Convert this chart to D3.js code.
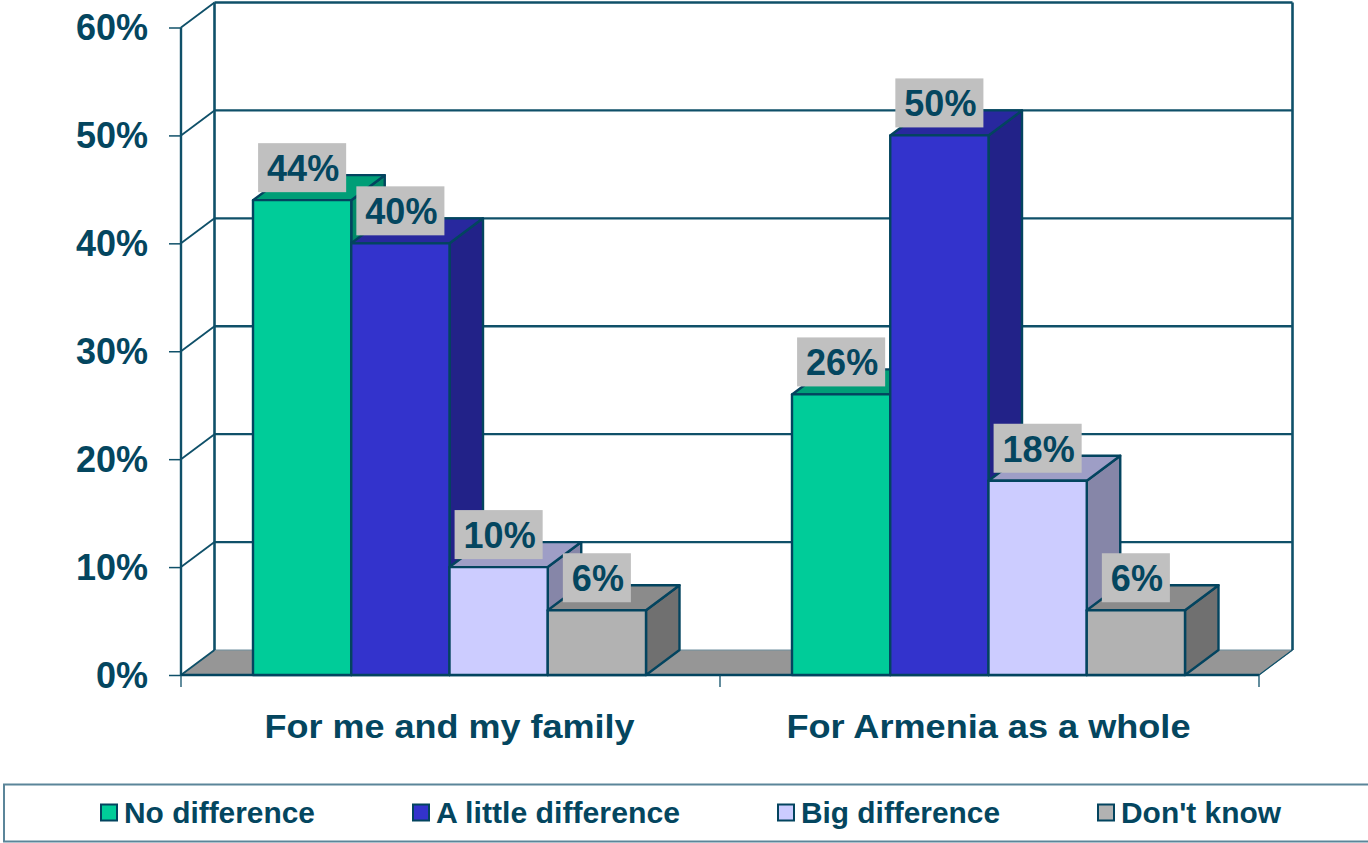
<!DOCTYPE html>
<html>
<head>
<meta charset="utf-8">
<script src="https://cdn.jsdelivr.net/npm/d3@7/dist/d3.min.js"></script>
<style>
html,body{margin:0;padding:0;background:#fff;overflow:hidden}
svg{display:block}
text{font-family:"Liberation Sans",Arial,sans-serif;font-weight:bold;fill:#04465f}
</style>
</head>
<body>
<svg id="chart" width="1368" height="843"></svg>
<script>
const categories = ["For me and my family", "For Armenia as a whole"];
const seriesNames = ["No difference", "A little difference", "Big difference", "Don't know"];
const noDifference = [44, 26];
const aLittleDifference = [40, 50];
const bigDifference = [10, 18];
const dontKnow = [6, 6];
const yTicks = [0, 10, 20, 30, 40, 50, 60];
const seriesValues = [noDifference, aLittleDifference, bigDifference, dontKnow];

const frontColors = ["#00cc99", "#3333cc", "#ccccff", "#b2b2b2"];
const topColors = ["#009e77", "#28289e", "#9e9ec6", "#8b8b8b"];
const sideColors = ["#008a68", "#222288", "#8686a8", "#707070"];
const ink = "#04465f", line = "#0f5069", outline = "#03445f";

const dx = 33.5, dy = -25;
const y = d3.scaleLinear().domain([0, 60]).range([675, 27.5]);
const x = d3.scaleBand().domain(categories).range([181, 1259]);
const inner = d3.scaleBand().domain(seriesNames).range([72, x.bandwidth() - 74]);

const svg = d3.select("#chart");
const poly = pts => pts.map(p => p.join(",")).join(" ");

// floor
svg.append("polygon")
  .attr("points", poly([[181, y(0)], [181 + dx, y(0) + dy], [1259 + dx, y(0) + dy], [1259, y(0)]]))
  .attr("fill", "#969696").attr("stroke", "#6f8f9e").attr("stroke-width", 1);

// back-wall gridlines and side-wall diagonals
svg.append("g").selectAll("line.grid").data(yTicks.filter(d => d > 0)).join("line")
  .attr("x1", 181 + dx).attr("x2", 1259 + dx)
  .attr("y1", d => y(d) + dy).attr("y2", d => y(d) + dy)
  .attr("stroke", line).attr("stroke-width", 2.4);
svg.append("g").selectAll("line").data(yTicks).join("line")
  .attr("x1", 181).attr("x2", 181 + dx)
  .attr("y1", d => y(d)).attr("y2", d => y(d) + dy)
  .attr("stroke", line).attr("stroke-width", 1.8);
// wall verticals
[181 + dx, 1259 + dx].forEach(vx => svg.append("line")
  .attr("x1", vx).attr("x2", vx).attr("y1", y(60) + dy).attr("y2", y(0) + dy)
  .attr("stroke", line).attr("stroke-width", 2.6));
svg.append("line").attr("x1", 1259).attr("x2", 1259 + dx)
  .attr("y1", y(0)).attr("y2", y(0) + dy).attr("stroke", line).attr("stroke-width", 1.2);

// y axis
const yAxis = d3.axisLeft(y).tickValues(yTicks).tickFormat(d => d + "%").tickSize(12).tickPadding(21);
const gy = svg.append("g").attr("transform", "translate(181,0)").call(yAxis);
gy.select(".domain").attr("stroke", line).attr("stroke-width", 2.4).attr("d", `M0,${y(60)}V${y(0)}`);
gy.selectAll(".tick line").attr("stroke", line).attr("stroke-width", 1.5);
gy.selectAll(".tick text").attr("font-size", 36).attr("font-family", null).attr("dy", "0.34em").style("fill", ink);

// x axis
const xAxis = d3.axisBottom(x).tickSize(0).tickPadding(0);
const gx = svg.append("g").attr("transform", `translate(0,${y(0)})`).call(xAxis);
gx.select(".domain").attr("stroke", outline).attr("stroke-width", 2.4).attr("d", "M181,0H1259");
gx.selectAll(".tick text").attr("font-size", 34).attr("y", 63).attr("dy", 0).attr("font-family", null)
  .attr("dx", -1)
  .attr("textLength", 370).attr("lengthAdjust", "spacingAndGlyphs").style("fill", ink);
gx.selectAll(".tick").filter((d, i) => i === 1).select("text").attr("textLength", 404);
const edges = [x(categories[0]), x(categories[1]), x(categories[1]) + x.bandwidth()];
svg.append("g").selectAll("line").data(edges).join("line")
  .attr("x1", d => d).attr("x2", d => d).attr("y1", y(0)).attr("y2", y(0) + 12)
  .attr("stroke", line).attr("stroke-width", 1.3);

// bars
const barGroup = svg.append("g");
const labels = [];
categories.forEach((c, ci) => {
  seriesNames.forEach((s, si) => {
    const v = seriesValues[si][ci];
    const x0 = x(c) + inner(s), x1 = x0 + inner.bandwidth(), yt = y(v), yb = y(0);
    const g = barGroup.append("g").attr("stroke", outline).attr("stroke-width", 2.4).attr("stroke-linejoin", "round");
    g.append("polygon").attr("fill", sideColors[si])
      .attr("points", poly([[x1, yb], [x1 + dx, yb + dy], [x1 + dx, yt + dy], [x1, yt]]));
    g.append("polygon").attr("fill", topColors[si])
      .attr("points", poly([[x0, yt], [x0 + dx, yt + dy], [x1 + dx, yt + dy], [x1, yt]]));
    g.append("rect").attr("fill", frontColors[si])
      .attr("x", x0).attr("y", yt).attr("width", x1 - x0).attr("height", yb - yt);
    labels.push({ v, cx: (x0 + x1) / 2, yt });
  });
});

// data labels
const lg = svg.append("g");
labels.forEach(d => {
  const g = lg.append("g");
  const r = g.append("rect").attr("fill", "#c0c0c0");
  const t = g.append("text").attr("font-size", 36).attr("text-anchor", "middle")
    .attr("x", d.cx + 1).attr("y", d.yt - 19).text(d.v + "%");
  const w = t.node().getComputedTextLength() + 16;
  r.attr("x", d.cx - w / 2).attr("width", w).attr("y", d.yt - 57).attr("height", 49);
});

// legend
svg.append("rect").attr("x", 4).attr("y", 784.5).attr("width", 1400).attr("height", 57)
  .attr("fill", "#fff").attr("stroke", "#5b8599").attr("stroke-width", 2);
const legendX = [100, 412, 777, 1097];
const legendW = [191, 244, 199, 160];
const lgd = svg.append("g").selectAll("g").data(seriesNames).join("g")
  .attr("transform", (d, i) => `translate(${legendX[i]},0)`);
lgd.append("rect").attr("x", 1).attr("y", 804.5).attr("width", 16).attr("height", 16)
  .attr("fill", (d, i) => frontColors[i]).attr("stroke", outline).attr("stroke-width", 2);
lgd.append("text").attr("x", 24).attr("y", 823).attr("font-size", 29)
  .attr("textLength", (d, i) => legendW[i]).attr("lengthAdjust", "spacingAndGlyphs")
  .text(d => d);
</script>
</body>
</html>
